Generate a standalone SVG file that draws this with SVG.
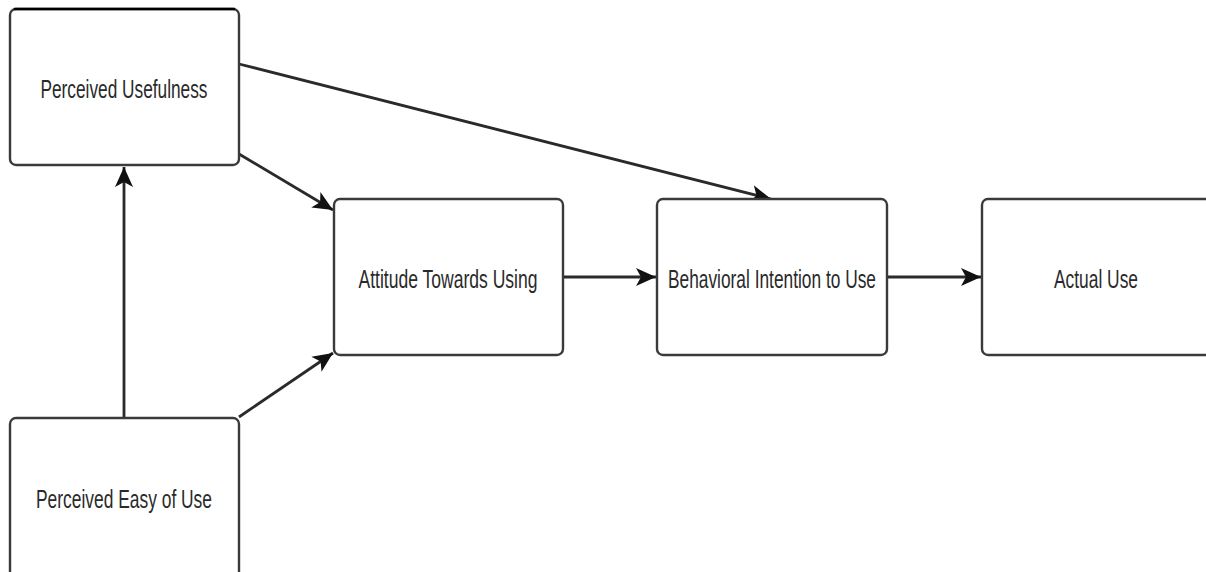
<svg xmlns="http://www.w3.org/2000/svg" width="1206" height="572" viewBox="0 0 1206 572">
<style>
.box{fill:#fff;stroke:#3a3a3a;stroke-width:2.4}
.lbl{font-family:"Liberation Sans",Arial,sans-serif;font-size:26px;fill:#2a2a2a;text-anchor:middle}
.edge{fill:none;stroke:#2a2a2a;stroke-width:2.8}
</style>
<defs>
<marker id="arr" markerUnits="userSpaceOnUse" markerWidth="22" markerHeight="22" viewBox="0 0 22 22" refX="20" refY="11" orient="auto">
<path d="M0,2 L20,11 L0,20 L5,11 z" fill="#111"/>
</marker>
</defs>
<rect width="1206" height="572" fill="#fff"/>
<g id="connectors">
<line class="edge" x1="124" y1="418" x2="124" y2="167" marker-end="url(#arr)"/>
<line class="edge" x1="239" y1="154" x2="333" y2="210" marker-end="url(#arr)"/>
<line class="edge" x1="239" y1="417" x2="333" y2="353" marker-end="url(#arr)"/>
<line class="edge" x1="239" y1="64" x2="771" y2="199" marker-end="url(#arr)"/>
<line class="edge" x1="563" y1="277" x2="656" y2="277" marker-end="url(#arr)"/>
<line class="edge" x1="887" y1="277" x2="981" y2="277" marker-end="url(#arr)"/>
</g>
<g id="pu">
<rect class="box" x="10" y="9" width="229" height="156" rx="6"/>
<line x1="14" y1="9" x2="235" y2="9" stroke="#000" stroke-width="2.5"/>
<text class="lbl" x="124" y="98" textLength="167" lengthAdjust="spacingAndGlyphs">Perceived Usefulness</text>
</g>
<g id="peu">
<rect class="box" x="10" y="418" width="229" height="170" rx="6"/>
<text class="lbl" x="124" y="508" textLength="176" lengthAdjust="spacingAndGlyphs">Perceived Easy of Use</text>
</g>
<g id="atu">
<rect class="box" x="334" y="199" width="229" height="156" rx="6"/>
<text class="lbl" x="448" y="288" textLength="179" lengthAdjust="spacingAndGlyphs">Attitude Towards Using</text>
</g>
<g id="bi">
<rect class="box" x="657" y="199" width="230" height="156" rx="6"/>
<text class="lbl" x="772" y="288" textLength="208" lengthAdjust="spacingAndGlyphs">Behavioral Intention to Use</text>
</g>
<g id="au">
<rect class="box" x="982" y="199" width="240" height="156" rx="6"/>
<text class="lbl" x="1096" y="288" textLength="84" lengthAdjust="spacingAndGlyphs">Actual Use</text>
</g>
</svg>
